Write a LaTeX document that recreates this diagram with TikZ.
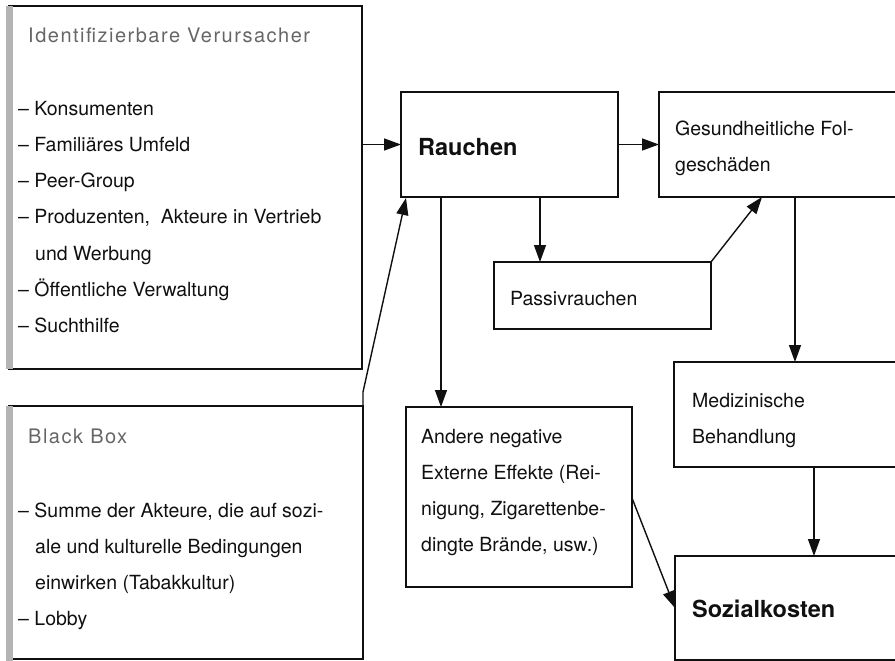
\documentclass[tikz,border=0pt]{standalone}
\usepackage{fontspec}
\setmainfont{TeX Gyre Heros}
\usetikzlibrary{arrows.meta,calc}
\definecolor{ink}{HTML}{101010}
\definecolor{headgray}{HTML}{666666}
\definecolor{edgegray}{HTML}{b4b4b4}

\begin{document}
\begin{tikzpicture}[x=1pt,y=-1pt,
  frame/.style={draw=ink, line width=1.5pt, inner sep=0pt, outer sep=0pt, anchor=north west},
  % multi-line texts are placed by the baseline of their last line
  body/.style={inner sep=0pt, anchor=base west, align=left, text=ink,
    font=\fontsize{19.5}{36.3}\selectfont},
  head/.style={inner sep=0pt, anchor=base west, text=headgray,
    font=\fontsize{20}{24}\selectfont\addfontfeatures{LetterSpace=7.5}},
  title/.style={inner sep=0pt, anchor=base west, text=ink,
    font=\fontsize{23.5}{28}\selectfont\bfseries},
  flow/.style={draw=ink, line width=1.4pt, -{Triangle[length=17pt,width=12pt]}},
  spine/.style={draw=edgegray, line width=7pt},
]
\useasboundingbox (0,0) rectangle (895,661);

% frames
\node[frame, minimum width=353pt, minimum height=363pt] (actors) at (9,6) {};
\node[frame, minimum width=354pt, minimum height=253pt] (blackbox) at (9,406) {};
\node[frame, minimum width=217pt, minimum height=105pt] (rauchen) at (401,92) {};
\node[frame, minimum width=251pt, minimum height=105pt] (gesund) at (659,92) {};
\node[frame, minimum width=217pt, minimum height=67pt] (passiv) at (494,262) {};
\node[frame, minimum width=236pt, minimum height=105pt] (medizin) at (674,362) {};
\node[frame, minimum width=226pt, minimum height=180pt] (andere) at (406,407) {};
\node[frame, minimum width=235pt, minimum height=104pt] (sozial) at (675,556) {};

% shaded left margins of the two actor boxes
\draw[spine] (actors.north west) -- (actors.south west);
\draw[spine] (blackbox.north west) -- ++(0,255);

% texts
\node[head] (actorshead) at (28,43) {Identifizierbare Verursacher};
\node[body] (actorslist) at (18,332.8) {– Konsumenten\\– Familiäres Umfeld\\– Peer-Group\\– Produzenten, \ Akteure in Vertrieb\\\hspace*{17pt}und Werbung\\– Öffentliche Verwaltung\\– Suchthilfe};
\node[head] (bbhead) at (28,443) {Black Box};
\node[body] (bblist) at (18,625.9) {– Summe der Akteure, die auf sozi-\\\hspace*{17pt}ale und kulturelle Bedingungen\\\hspace*{17pt}einwirken (Tabakkultur)\\– Lobby};
\node[title] (rauchentext) at (418,155) {Rauchen};
\node[body] (gesundtext) at (675,171.5) {Gesundheitliche Fol-\\geschäden};
\node[body] (passivtext) at (510,305) {Passivrauchen};
\node[body] (anderetext) at (421,551.9) {Andere negative\\Externe Effekte (Rei-\\nigung, Zigarettenbe-\\dingte Brände, usw.)};
\node[body] (medizintext) at (692,443.3) {Medizinische\\Behandlung};
\node[title] (sozialtext) at (692,617) {Sozialkosten};

% connectors
\draw[flow] (actors.east |- rauchen.west) -- (rauchen.west);
\draw[flow] (blackbox.north east) -- ++(0,-14) -- ($(rauchen.south west)+(5,1)$);
\draw[flow] (rauchen.east) -- (gesund.west);
\coordinate (rp) at ($(rauchen.south west)+(139,0)$);
\draw[flow] (rp) -- (rp |- passiv.north);
\coordinate (ra) at ($(rauchen.south west)+(40,0)$);
\draw[flow] (ra) -- (ra |- andere.north);
\draw[flow] (passiv.north east) -- ($(gesund.south west)+(103,0)$);
\coordinate (gm) at ($(gesund.south west)+(136,0)$);
\draw[flow] (gm) -- (gm |- medizin.north);
\coordinate (ms) at ($(medizin.south west)+(140,0)$);
\draw[flow] (ms) -- (ms |- sozial.north);
\draw[flow] ($(andere.north east)+(0,91)$) -- (sozial.west);
\end{tikzpicture}
\end{document}
